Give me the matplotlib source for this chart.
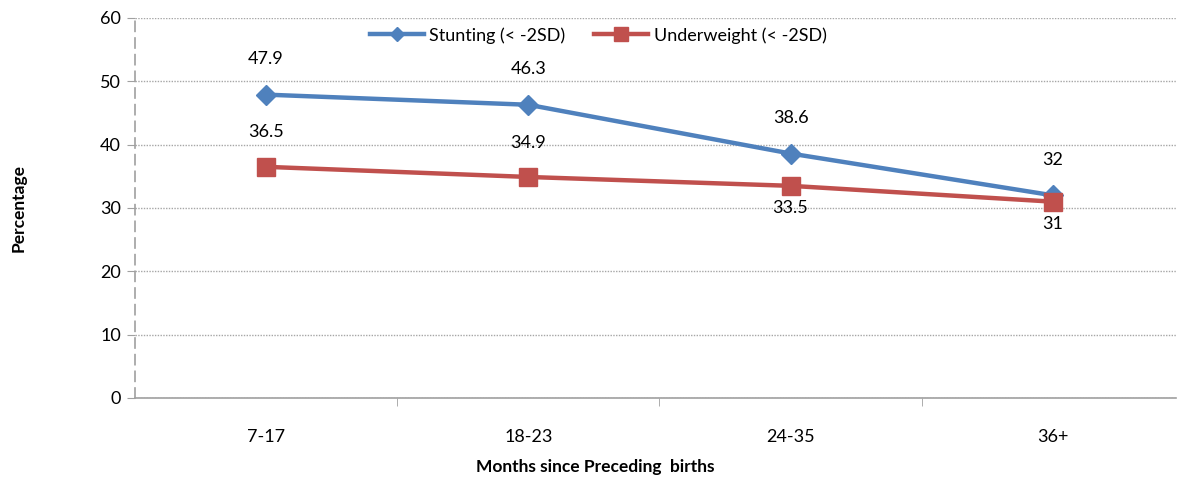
import matplotlib.pyplot as plt

# data
months = ['7-17', '18-23', '24-35', '36+']
stunting = [47.9, 46.3, 38.6, 32]
underweight = [36.5, 34.9, 33.5, 31]

plt.rcParams['font.family'] = ['Lato', 'DejaVu Sans']

fig = plt.figure(figsize=(11.77, 4.79), dpi=100)
ax = fig.add_axes([135 / 1177, 81 / 479, 1041 / 1177, 380 / 479])

x = list(range(len(months)))
blue = '#4F81BD'
red = '#C0504D'

ax.plot(x, stunting, color=blue, lw=3.2, marker='D', markersize=10,
        label='Stunting (< -2SD)', zorder=3)
ax.plot(x, underweight, color=red, lw=3.2, marker='s', markersize=13,
        label='Underweight (< -2SD)', zorder=4)

# value labels
for i, v in enumerate(stunting):
    ax.annotate(str(v), (i, v), xytext=(0, 20), textcoords='offset points',
                ha='center', va='bottom', fontsize=13)
for i, v in enumerate(underweight):
    dy = -10 if i >= 2 else 19
    va = 'top' if i >= 2 else 'bottom'
    ax.annotate(str(v), (i, v), xytext=(0, dy), textcoords='offset points',
                ha='center', va=va, fontsize=13)

ax.set_ylim(0, 60)
ax.set_xlim(-0.5, 3.47)
ax.set_yticks(range(0, 61, 10))
ax.set_xticks(x)
ax.set_xticklabels(months)
ax.set_xticks([0.5, 1.5, 2.5], minor=True)
ax.tick_params(axis='x', which='major', length=0, pad=22, labelsize=13)
ax.tick_params(axis='x', which='minor', length=6, color='#A0A0A0')
ax.tick_params(axis='y', length=6, color='#A0A0A0', labelsize=13, pad=4)

ax.grid(axis='y', linestyle=(0, (1, 1)), color='#A6A6A6', lw=1)
ax.set_axisbelow(True)

for s in ['top', 'right']:
    ax.spines[s].set_visible(False)
ax.spines['bottom'].set_color('#A0A0A0')
ax.spines['bottom'].set_linewidth(1.2)
ax.spines['left'].set_color('#A0A0A0')
ax.spines['left'].set_linewidth(1.2)
ax.spines['left'].set_linestyle((0, (6, 4)))

ax.set_ylabel('Percentage', fontsize=12.5, fontweight='bold', labelpad=0)
ax.yaxis.set_label_coords(-0.104, 0.5)
ax.set_xlabel('Months since Preceding  births', fontsize=12.5,
              fontweight='bold')
ax.xaxis.set_label_coords(0.442, -0.16)

ax.legend(loc='upper center', bbox_to_anchor=(0.445, 1.0), ncol=2,
          frameon=False, fontsize=13, handlelength=3.0, columnspacing=1.6,
          handletextpad=0.3, borderaxespad=0.1, markerscale=0.75)

fig.savefig('out.png', dpi=100)
